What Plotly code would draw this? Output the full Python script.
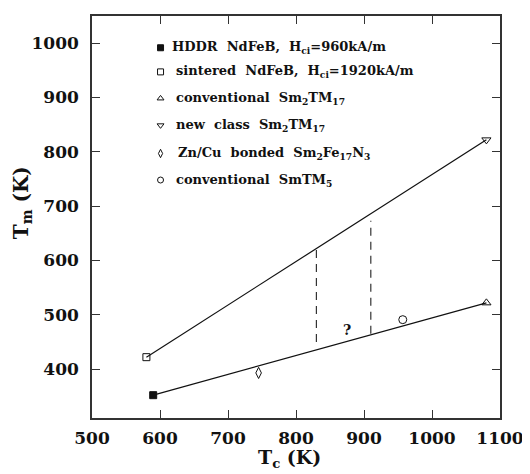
import plotly.graph_objects as go

# ---- data ----
names = [
    "HDDR\u00a0 NdFeB,\u00a0 H<sub>ci</sub>=960kA/m",
    "sintered\u00a0 NdFeB,\u00a0 H<sub>ci</sub>=1920kA/m",
    "conventional\u00a0 Sm<sub>2</sub>TM<sub>17</sub>",
    "new\u00a0 class\u00a0 Sm<sub>2</sub>TM<sub>17</sub>",
    "Zn/Cu\u00a0 bonded\u00a0 Sm<sub>2</sub>Fe<sub>17</sub>N<sub>3</sub>",
    "conventional\u00a0 SmTM<sub>5</sub>",
]
tc_values = [590, 580, 1080, 1080, 745, 957]
tm_values = [352, 422, 522, 822, 393, 491]
symbols = ["square", "square-open", "triangle-up-open", "triangle-down-open",
           "diamond-tall-open", "circle-open"]

# fitted lines: lower (HDDR -> conventional Sm2TM17), upper (sintered -> new class)
lower_x = [590, 1080]
lower_y = [352, 522]
upper_x = [580, 1080]
upper_y = [422, 822]

# dashed vertical markers
dash_x = [830, 910]
dash_lo = [450, 465]
dash_hi = [622, 673]

qmark_x = [875]
qmark_y = [469]
qmark_text = ["<b>?</b>"]

x_ticks = [500, 600, 700, 800, 900, 1000, 1100]
y_ticks = [400, 500, 600, 700, 800, 900, 1000]

FONT = "DejaVu Serif"
INK = "#111"

fig = go.Figure()

fig.add_trace(go.Scatter(x=lower_x, y=lower_y, mode="lines",
                         line=dict(color=INK, width=1.2), showlegend=False))
fig.add_trace(go.Scatter(x=upper_x, y=upper_y, mode="lines",
                         line=dict(color=INK, width=1.2), showlegend=False))
for xv, lo, hi in zip(dash_x, dash_lo, dash_hi):
    fig.add_trace(go.Scatter(x=[xv, xv], y=[lo, hi], mode="lines",
                             line=dict(color="#333", width=1.2, dash="8px,6px"),
                             showlegend=False))

for sym, xv, yv in zip(symbols, tc_values, tm_values):
    fig.add_trace(go.Scatter(
        x=[xv], y=[yv], mode="markers", showlegend=False,
        marker=dict(symbol=sym, size=7 if "square" in sym else 8,
                    color=INK, line=dict(color=INK, width=1)),
    ))

fig.add_trace(go.Scatter(x=qmark_x, y=qmark_y, mode="text", text=qmark_text,
                         textfont=dict(family=FONT, size=14, color=INK),
                         showlegend=False))

# ---- manual legend (overlay axes in paper-like units) ----
leg_rows = [0.921, 0.861, 0.795, 0.728, 0.658, 0.592]
leg_sym_x = 0.168
leg_txt_x = [0.19, 0.202, 0.202, 0.202, 0.207, 0.202]
for sym, yy in zip(symbols, leg_rows):
    fig.add_trace(go.Scatter(
        x=[leg_sym_x], y=[yy], xaxis="x2", yaxis="y2", mode="markers",
        showlegend=False,
        marker=dict(symbol=sym, size=6,
                    color=INK, line=dict(color=INK, width=1)),
    ))
annotations = []
for name, yy, tx in zip(names, leg_rows, leg_txt_x):
    annotations.append(dict(
        x=tx, y=yy, xref="paper", yref="paper", text="<b>" + name + "</b>",
        showarrow=False, xanchor="left", yanchor="middle",
        font=dict(family=FONT, size=13, color=INK),
    ))

annotations.append(dict(
    x=-0.171, y=0.535, xref="paper", yref="paper",
    text="<b>T<sub>m</sub> (K)</b>", textangle=-90, showarrow=False,
    xanchor="center", yanchor="middle",
    font=dict(family=FONT, size=20, color=INK),
))
annotations.append(dict(
    x=0.485, y=-0.1, xref="paper", yref="paper",
    text="<b>T<sub>c</sub> (K)</b>", showarrow=False,
    xanchor="center", yanchor="middle",
    font=dict(family=FONT, size=19, color=INK),
))

axis_common = dict(
    showgrid=False, zeroline=False, showline=True, linecolor="#333",
    linewidth=1.5, mirror="ticks", ticks="inside", ticklen=8,
    tickwidth=1.3, tickcolor="#333",
    tickfont=dict(family=FONT, size=17, color=INK, weight="bold"),
)

# the page body has an 8px margin, so the figure is drawn offset by 8px;
# size/margins are chosen so the plot area lands where the reference's does
fig.update_layout(
    width=522, height=466,
    margin=dict(l=84, r=28, t=6, b=56),
    paper_bgcolor="white", plot_bgcolor="white",
    xaxis=dict(range=[500, 1100], tickvals=x_ticks, ticklabelstandoff=4,
               **axis_common),
    yaxis=dict(range=[310, 1050], tickvals=y_ticks, ticklabelstandoff=8,
               **axis_common),
    xaxis2=dict(range=[0, 1], overlaying="x", visible=False),
    yaxis2=dict(range=[0, 1], overlaying="y", visible=False),
    annotations=annotations,
    showlegend=False,
)

fig.write_html("out.html")
